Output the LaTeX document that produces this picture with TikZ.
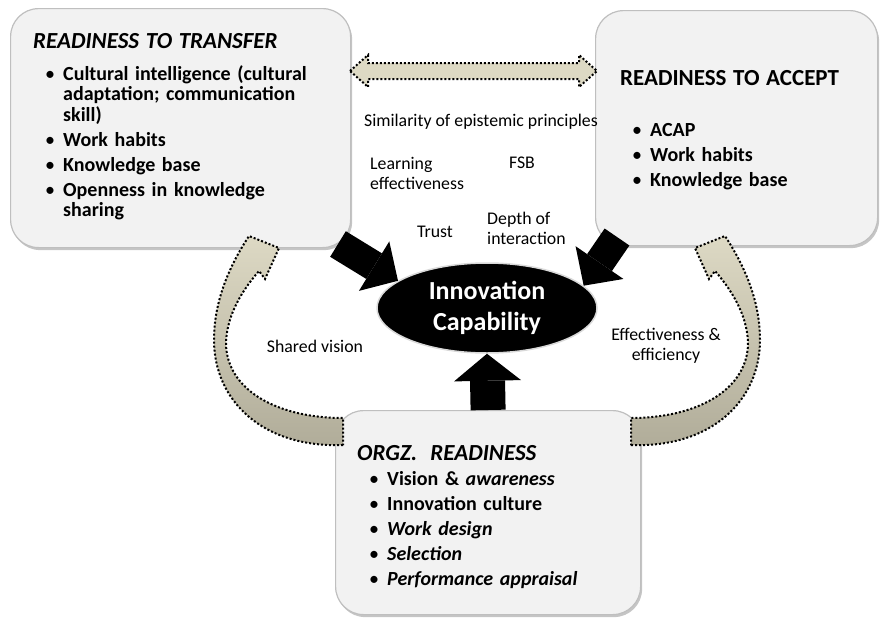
\documentclass[tikz,border=0pt]{standalone}
\usepackage{fontspec}
\setmainfont{Carlito}
\usetikzlibrary{arrows.meta,shapes.geometric,shadows,positioning}
\definecolor{tanlight}{HTML}{DDD9C4}
\definecolor{tandark}{HTML}{B0AC99}
\definecolor{boxfill}{HTML}{F2F2F2}
\newcommand{\bitem}[1]{\par\lineskip=0pt\relax\vspace{4.5pt}\noindent\hspace*{12pt}\makebox[18pt][l]{\mdseries\upshape\textbullet}%
  \parbox[t]{260pt}{\raggedright\strut#1\strut}\par}
\tikzset{
  panel/.style={draw=black!25, line width=1.2pt, fill=boxfill, rounded corners=28pt, anchor=north west, inner sep=0pt,
    drop shadow={shadow xshift=1.5pt, shadow yshift=-2.5pt, fill=black!45, opacity=0.5}},
  paneltext/.style={anchor=north west, inner sep=0pt, text width=#1, align=left,
    font=\fontsize{20}{20.5}\selectfont\bfseries},
  lbl/.style={inner sep=0pt, font=\fontsize{17.8}{20}\selectfont},
  dotarrow/.style={draw=black, line width=2pt, dash pattern=on 2pt off 2pt, fill=tanlight},
  bigarrow/.style={draw=black, line width=#1, -{Triangle[length=28pt,width=58pt,line width=0pt]}},
}
\begin{document}
\begin{tikzpicture}[x=1pt,y=-1pt]
\useasboundingbox (0,0) rectangle (880,621);
% the three readiness boxes
\node[panel, minimum width=340pt, minimum height=239pt] (tl) at (10,8) {};
\node[panel, minimum width=282pt, minimum height=235pt] (tr) at (595,10) {};
\node[panel, minimum width=305pt, minimum height=204pt] (ob) at (335,410) {};
\node[paneltext=315pt, below right=25pt and 23pt of tl.north west] (tltext) {%
  {\fontsize{23}{26}\selectfont\itshape READINESS TO TRANSFER\par}\vspace{7pt}%
  \bitem{Cultural intelligence (cultural\\adaptation; communication\\skill)}%
  \bitem{Work habits}%
  \bitem{Knowledge base}%
  \bitem{Openness in knowledge\\sharing}};
\node[paneltext=255pt, below right=60pt and 25pt of tr.north west] (trtext) {%
  {\fontsize{23}{26}\selectfont READINESS TO ACCEPT\par}\vspace{26pt}%
  \bitem{ACAP}%
  \bitem{Work habits}%
  \bitem{Knowledge base}};
\node[paneltext=275pt, below right=35pt and 22pt of ob.north west] (obtext) {%
  {\fontsize{23}{26}\selectfont\itshape ORGZ.\ \ READINESS\par}%
  \bitem{Vision \& \textit{awareness}}%
  \bitem{Innovation culture}%
  \bitem{\textit{Work design}}%
  \bitem{\textit{Selection}}%
  \bitem{\textit{Performance appraisal}}};
% curved dotted arrows
\path[dotarrow, top color=tanlight, bottom color=tandark] (343,445) .. controls (262,448) and (214,400) .. (214,340)
  .. controls (214,300) and (230,265) .. (249,236) -- (279,248) -- (265,279) -- (259,271)
  .. controls (238,295) and (226,320) .. (226,345) .. controls (228,392) and (280,418) .. (343,418) -- cycle;
\begin{scope}[xshift=974pt, xscale=-1]
\path[dotarrow, top color=tanlight, bottom color=tandark] (343,445) .. controls (262,448) and (214,400) .. (214,340)
  .. controls (214,300) and (230,265) .. (249,236) -- (279,248) -- (265,279) -- (259,271)
  .. controls (238,295) and (226,320) .. (226,345) .. controls (228,392) and (280,418) .. (343,418) -- cycle;
\end{scope}
\coordinate (dl) at (350,71);
\coordinate (dr) at (597,71);
\draw[dotarrow] (dl) -- ++(18,-16) -- ++(0,8) -- ++(211,0) -- ++(0,-8) -- (dr) -- ++(-18,16) -- ++(0,-8) -- ++(-211,0) -- ++(0,8) -- cycle;
% centre
\node[ellipse, fill=black, draw=black!15, line width=1.5pt, minimum width=220pt, minimum height=90pt, inner sep=0pt,
  text=white, align=center, font=\fontsize{26}{31}\selectfont\bfseries] (ic) at (487,308) {Innovation\\Capability};
\coordinate (ltail) at (338,244);
\coordinate (rtail) at (617,237);
\draw[bigarrow=30pt] (ltail) -- (ic.163);
\draw[bigarrow=30pt] (rtail) -- (ic.13);
\draw[bigarrow=35pt, -{Triangle[length=27pt,width=67pt,line width=0pt]}] (ob.north) -- (ic.south);
% labels
\node[lbl] (simlbl) at (481,122) {Similarity of epistemic principles};
\node[lbl, anchor=west, align=left] (learnlbl) at (370,173) {Learning\\effectiveness};
\node[lbl] (fsblbl) at (522,163) {FSB};
\node[lbl] (trustlbl) at (435,232) {Trust};
\node[lbl, anchor=west, align=left] (depthlbl) at (487,228) {Depth of\\interaction};
\node[lbl] (sharedlbl) at (315,346) {Shared vision};
\node[lbl, align=center] (efflbl) at (666,346) {Effectiveness \&\\efficiency};
\end{tikzpicture}
\end{document}
